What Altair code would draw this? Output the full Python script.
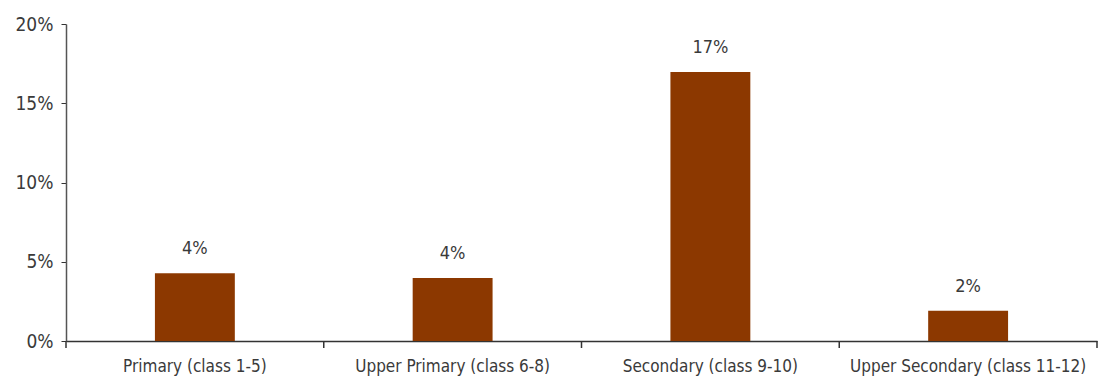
import altair as alt
import pandas as pd

categories = ["Primary (class 1-5)", "Upper Primary (class 6-8)", "Secondary (class 9-10)", "Upper Secondary (class 11-12)"]
values = [0.0427, 0.0397, 0.1697, 0.0191]
labels = ["4%", "4%", "17%", "2%"]

df = pd.DataFrame({"cat": categories, "val": values, "lab": labels})
edges = pd.DataFrame({"cat": categories + [categories[-1]], "pos": [0, 0, 0, 0, 1]})

FONT = "Liberation Sans Narrow, DejaVu Sans Condensed, Arial, sans-serif"
W, H = 1031, 317

xscale = alt.Scale(domain=categories, paddingInner=0, paddingOuter=0)
yscale = alt.Scale(domain=[0, 0.2])

bars = alt.Chart(df).mark_bar(color="#8C3800", width={"band": 0.31}).encode(
    x=alt.X("cat:N", scale=xscale, sort=categories, title=None,
            axis=alt.Axis(ticks=False, labelAngle=0, labelFont=FONT, labelFontSize=17,
                          labelColor="#3a3a3a", domainColor="#333333", domainWidth=1.5,
                          labelPadding=17, labelLimit=300)),
    y=alt.Y("val:Q", scale=yscale, title=None,
            axis=alt.Axis(values=[0, 0.05, 0.1, 0.15, 0.2], format=".0%", grid=False,
                          tickSize=5, tickColor="#333333", domainColor="#555555",
                          domainWidth=1.5, labelFont=FONT, labelFontSize=19,
                          labelColor="#3a3a3a", labelPadding=8)),
)

text = alt.Chart(df).mark_text(font=FONT, fontSize=18, color="#3a3a3a", dy=-24).encode(
    x=alt.X("cat:N", scale=xscale, sort=categories),
    y=alt.Y("val:Q", scale=yscale),
    text="lab:N",
)

ticks = alt.Chart(edges).transform_filter(alt.datum.pos == 0).mark_rule(
    color="#333333", strokeWidth=1.5).encode(
    x=alt.X("cat:N", scale=xscale, sort=categories, bandPosition=0),
    y=alt.value(H),
    y2=alt.value(H + 7),
)
ticks_end = alt.Chart(edges).transform_filter(alt.datum.pos == 1).mark_rule(
    color="#333333", strokeWidth=1.5).encode(
    x=alt.X("cat:N", scale=xscale, sort=categories, bandPosition=1),
    y=alt.value(H),
    y2=alt.value(H + 7),
)

chart = alt.layer(bars, text, ticks, ticks_end).properties(
    width=W, height=H,
    padding={"left": 66, "top": 24, "right": 2, "bottom": 41},
    autosize=alt.AutoSizeParams(type="none"),
    background="white",
).configure_view(stroke=None)

chart.save("out.html", embed_options={"renderer": "svg", "actions": False})
